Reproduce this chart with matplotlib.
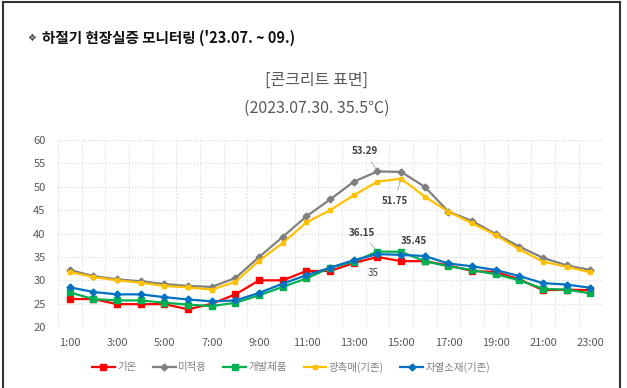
import numpy as np
import matplotlib
matplotlib.use('Agg')
import matplotlib.pyplot as plt
from matplotlib.lines import Line2D

plt.rcParams['font.family'] = ['Noto Sans CJK KR', 'DejaVu Sans']

# data
hours = ['%d:00' % h for h in range(1, 24)]
air_temp = [26.0, 26.0, 24.9, 24.9, 24.9, 23.8, 25.0, 27.0, 30.0, 30.0, 32.0, 32.0,
            33.7, 35.0, 34.1, 34.1, 33.2, 32.0, 31.8, 30.2, 27.9, 28.0, 27.9]
no_coat = [32.2, 30.9, 30.2, 29.8, 29.2, 28.8, 28.6, 30.5, 35.0, 39.3, 43.7, 47.3,
           51.1, 53.29, 53.2, 50.0, 44.7, 42.7, 39.9, 37.2, 34.8, 33.2, 32.2]
new_product = [27.4, 26.0, 25.7, 25.7, 25.2, 24.8, 24.5, 25.2, 26.8, 28.6, 30.4, 32.7,
               34.0, 36.15, 36.1, 34.1, 33.0, 32.2, 31.3, 30.0, 28.2, 28.0, 27.2]
photocat = [31.8, 30.7, 30.0, 29.5, 28.8, 28.5, 28.0, 29.7, 34.2, 38.0, 42.4, 45.0,
            48.2, 51.1, 51.75, 47.9, 44.7, 42.2, 39.7, 36.6, 34.0, 32.9, 31.7]
heat_mat = [28.5, 27.5, 27.0, 27.0, 26.4, 25.9, 25.5, 25.7, 27.3, 29.3, 31.1, 32.7,
            34.3, 35.6, 35.45, 35.2, 33.6, 33.0, 32.2, 30.9, 29.4, 29.1, 28.4]

series = [
    ('기온', air_temp, '#ff0000', 's', 4.5),
    ('미적용', no_coat, '#7f7f7f', 'D', 3.5),
    ('개발제품', new_product, '#00b050', 's', 4.5),
    ('광촉매(기존)', photocat, '#ffc000', 's', 3.5),
    ('자열소재(기존)', heat_mat, '#0070c0', 'D', 3.5),
]

fig = plt.figure(figsize=(6.27, 3.88), dpi=100)
ax = fig.add_axes([0.0925, 0.157, 0.868, 0.482])

x = np.arange(len(hours))
for name, vals, col, mk, ms in series:
    ax.plot(x, vals, color=col, marker=mk, markersize=ms, lw=1.6, label=name)

ax.set_xlim(-0.5, len(hours) - 0.5)
ax.set_ylim(20, 60)
ax.set_yticks(np.arange(20, 61, 5))
ax.set_xticks(x[::2])
ax.set_xticklabels(hours[::2])
ax.set_xticks(np.arange(-0.5, len(hours), 1), minor=True)
ax.tick_params(which='both', length=0)
ax.tick_params(axis='both', labelsize=8, labelcolor='#595959')
ax.tick_params(axis='x', pad=8)
ax.tick_params(axis='y', pad=9)
ax.grid(axis='y', which='major', color='#d9d9d9', ls=':', lw=0.8)
ax.grid(axis='x', which='minor', color='#d9d9d9', ls=':', lw=0.8)
ax.set_axisbelow(True)
for s in ax.spines.values():
    s.set_visible(False)

# value labels
ann = dict(fontsize=7, color='#404040', fontweight='bold',
           arrowprops=dict(arrowstyle='-', color='#a6a6a6', lw=0.6))
ax.annotate('53.29', xy=(13, 53.29), xytext=(12.46, 57.6), ha='center', va='center', **ann)
ax.annotate('51.75', xy=(14, 51.75), xytext=(13.72, 47.0), ha='center', va='center', **ann)
ax.annotate('36.15', xy=(13, 36.15), xytext=(12.33, 40.1), ha='center', va='center', **ann)
ax.annotate('35.45', xy=(14, 35.45), xytext=(14.55, 38.4), ha='center', va='center', **ann)
ax.text(12.8, 31.6, '35', fontsize=7, color='#404040', ha='center', va='center')

fig.legend(loc='center', bbox_to_anchor=(291 / 627, 0.054), ncol=5, frameon=False,
           fontsize=7.5, handlelength=2.2, columnspacing=1.6, handletextpad=0.2,
           labelcolor='#7f7f7f')

# titles
fig.text(0.051, 1 - 38 / 388, '❖', fontsize=7, color='#404040', ha='center', va='center',
         family=['DejaVu Sans'])
fig.text(0.067, 1 - 38 / 388, "하절기 현장실증 모니터링 ('23.07. ~ 09.)", fontsize=10.5,
         fontweight='bold', ha='left', va='center', color='#111111')
fig.text(0.505, 1 - 80 / 388, '[콘크리트 표면]', fontsize=11.5, color='#595959',
         ha='center', va='center')
fig.text(0.505, 1 - 108 / 388, '(2023.07.30. 35.5℃)', fontsize=11.5, color='#595959',
         ha='center', va='center')

# page frame
fig.add_artist(Line2D([3 / 627, 3 / 627], [0, 1 - 2 / 388], color='#333333', lw=1.5))
fig.add_artist(Line2D([3 / 627, 620 / 627], [1 - 2 / 388, 1 - 2 / 388], color='#333333', lw=1.5))
fig.add_artist(Line2D([620 / 627, 620 / 627], [0, 1 - 2 / 388], color='#333333', lw=1.5))

fig.savefig('out.png', dpi=100)
